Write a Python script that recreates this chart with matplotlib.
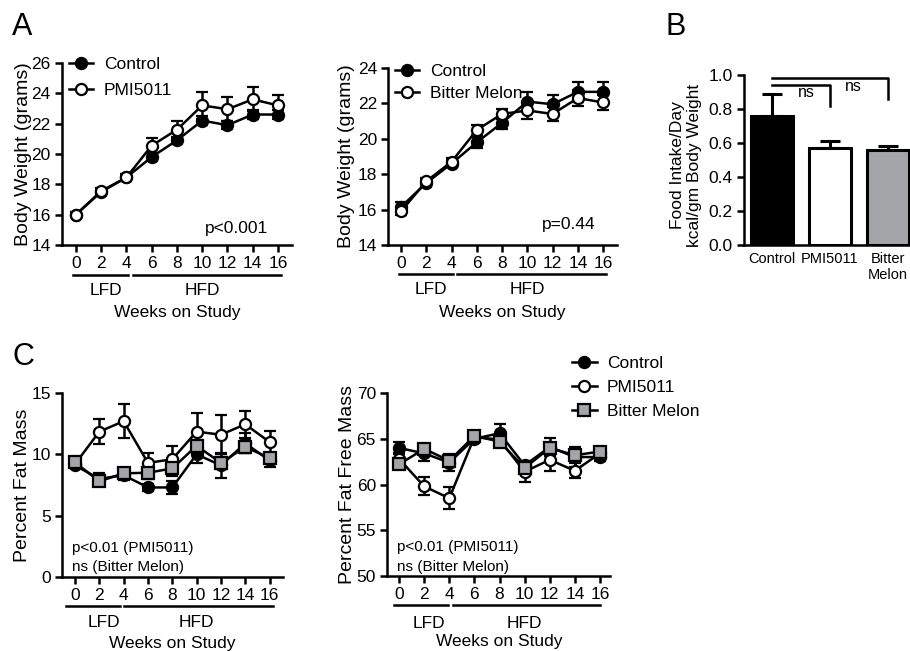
import numpy as np
import matplotlib
matplotlib.use("Agg")
import matplotlib.pyplot as plt

plt.rcParams["font.family"] = ["Liberation Sans", "DejaVu Sans"]

# --- Datos ---
weeks = [0, 2, 4, 6, 8, 10, 12, 14, 16]

bw1_control = [16.0, 17.5, 18.45, 19.8, 20.9, 22.2, 21.9, 22.6, 22.6]
bw1_control_err = [0.15, 0.2, 0.2, 0.25, 0.25, 0.3, 0.25, 0.3, 0.3]
bw1_pmi = [16.0, 17.55, 18.45, 20.55, 21.6, 23.2, 22.95, 23.6, 23.2]
bw1_pmi_err = [0.15, 0.2, 0.25, 0.5, 0.6, 0.9, 0.8, 0.8, 0.7]

bw2_control = [16.15, 17.5, 18.6, 19.8, 20.9, 22.1, 21.95, 22.65, 22.65]
bw2_control_err = [0.3, 0.25, 0.2, 0.3, 0.35, 0.55, 0.55, 0.55, 0.55]
bw2_bm = [15.9, 17.6, 18.7, 20.5, 21.4, 21.6, 21.4, 22.3, 22.05]
bw2_bm_err = [0.2, 0.2, 0.2, 0.3, 0.3, 0.5, 0.4, 0.45, 0.45]

food_groups = ["Control", "PMI5011", "Bitter\nMelon"]
food_intake = [0.76, 0.57, 0.56]
food_err = [0.13, 0.04, 0.02]

fat_control = [9.1, 8.0, 8.3, 7.3, 7.3, 10.0, 9.1, 10.9, 9.5]
fat_control_err = [0.2, 0.5, 0.4, 0.3, 0.5, 0.7, 1.0, 0.8, 0.5]
fat_pmi = [9.2, 11.85, 12.7, 9.3, 9.6, 11.85, 11.6, 12.45, 11.0]
fat_pmi_err = [0.2, 1.0, 1.4, 0.8, 1.1, 1.5, 1.6, 1.1, 0.9]
fat_bm = [9.35, 7.8, 8.45, 8.5, 8.85, 10.7, 9.3, 10.6, 9.7]
fat_bm_err = [0.3, 0.4, 0.4, 0.5, 0.6, 0.5, 0.5, 0.5, 0.4]

ffm_control = [64.0, 63.4, 62.4, 65.0, 65.6, 62.1, 64.1, 63.0, 63.0]
ffm_control_err = [0.6, 0.8, 0.9, 0.5, 1.0, 0.5, 1.0, 1.1, 0.4]
ffm_pmi = [62.8, 59.8, 58.5, 65.2, 64.9, 61.4, 62.7, 61.5, 63.4]
ffm_pmi_err = [0.5, 1.0, 1.2, 0.5, 0.7, 1.1, 1.2, 0.8, 0.5]
ffm_bm = [62.2, 63.9, 62.6, 65.3, 64.7, 61.8, 64.0, 63.2, 63.6]
ffm_bm_err = [0.5, 0.5, 0.6, 0.4, 0.5, 0.5, 0.5, 0.5, 0.4]

GRIS = "#a3a5a8"
LW = 1.8
FS = 12.5

estilos = {
    "Control": dict(marker="o", mfc="black", mec="black", ms=8),
    "PMI5011": dict(marker="o", mfc="white", mec="black", ms=8),
    "Bitter Melon": dict(marker="s", mfc=GRIS, mec="black", ms=8.5),
}


def estilo_ejes(ax):
    for s in ["top", "right"]:
        ax.spines[s].set_visible(False)
    for s in ["left", "bottom"]:
        ax.spines[s].set_linewidth(LW)
    ax.tick_params(width=LW, length=5, labelsize=FS, pad=3)


def serie(ax, y, err, nombre, estilo=None):
    c = ax.errorbar(weeks, y, yerr=err, color="black", lw=LW, capsize=4.5,
                    capthick=LW, elinewidth=LW, mew=1.6, label=nombre,
                    clip_on=False, **(estilo or estilos[nombre]))
    return c[0]


def leyenda(ax, handles, labels, anchor, spacing):
    ax.legend(handles, labels, loc="upper left", bbox_to_anchor=anchor, frameon=False,
              fontsize=FS, handlelength=1.4, handletextpad=0.6, labelspacing=spacing,
              borderaxespad=0)


def dietas(ax, lfd, hfd, y_linea, y_lfd, y_wk):
    tr = ax.get_xaxis_transform()
    ax.plot(lfd, [y_linea, y_linea], color="black", lw=LW, transform=tr, clip_on=False)
    ax.plot(hfd, [y_linea, y_linea], color="black", lw=LW, transform=tr, clip_on=False)
    ax.text(2.4, y_lfd, "LFD", transform=tr, ha="center", va="center", fontsize=FS)
    ax.text(10, y_lfd, "HFD", transform=tr, ha="center", va="center", fontsize=FS)
    ax.text(8, y_wk, "Weeks on Study", transform=tr, ha="center", va="center", fontsize=FS)


fig = plt.figure(figsize=(9.1, 6.51), dpi=100)

# --- A izquierda ---
ax1 = fig.add_axes([0.0681, 0.6237, 0.2527, 0.2796])
h1 = serie(ax1, bw1_control, bw1_control_err, "Control")
h2 = serie(ax1, bw1_pmi, bw1_pmi_err, "PMI5011")
ax1.set_xlim(-1.1, 17.1)
ax1.set_ylim(14, 26)
ax1.set_yticks(range(14, 27, 2))
ax1.set_xticks(weeks)
ax1.set_ylabel("Body Weight (grams)", fontsize=14)
ax1.yaxis.set_label_coords(-0.13, 0.5)
estilo_ejes(ax1)
ax1.text(0.896, 0.093, "p<0.001", transform=ax1.transAxes, ha="right", va="center", fontsize=FS)
leyenda(ax1, [h1, h2], ["Control", "PMI5011"], (0.0, 1.07), 0.6)
dietas(ax1, [-0.2, 4.1], [4.5, 16.25], -0.165, -0.25, -0.37)

# --- A derecha ---
ax2 = fig.add_axes([0.4264, 0.6237, 0.2516, 0.2719])
h1 = serie(ax2, bw2_control, bw2_control_err, "Control")
h2 = serie(ax2, bw2_bm, bw2_bm_err, "Bitter Melon", estilos["PMI5011"])
ax2.set_xlim(-1.03, 17.1)
ax2.set_ylim(14, 24)
ax2.set_yticks(range(14, 25, 2))
ax2.set_xticks(weeks)
ax2.set_ylabel("Body Weight (grams)", fontsize=14)
ax2.yaxis.set_label_coords(-0.144, 0.5)
estilo_ejes(ax2)
ax2.text(0.908, 0.113, "p=0.44", transform=ax2.transAxes, ha="right", va="center", fontsize=FS)
leyenda(ax2, [h1, h2], ["Control", "Bitter Melon"], (0.0, 1.06), 0.35)
dietas(ax2, [-0.16, 4.1], [4.45, 16.2], -0.164, -0.254, -0.379)

# --- B ---
ax3 = fig.add_axes([744 / 910, 0.6237, 166 / 910, 0.2611])
xb = np.arange(len(food_groups))
ax3.bar(xb, food_intake, width=0.72, color=["black", "white", GRIS],
        edgecolor="black", linewidth=2.2, zorder=2)
ax3.errorbar(xb, food_intake, yerr=[[0, 0, 0], food_err], fmt="none", ecolor="black",
             elinewidth=2.2, capsize=7, capthick=2.2, zorder=1)
ax3.set_xlim(-0.48, 2.38)
ax3.set_ylim(0, 1.0)
ax3.set_yticks(np.arange(0, 1.01, 0.2))
ax3.set_yticklabels([f"{v:.1f}" for v in np.arange(0, 1.01, 0.2)])
ax3.set_xticks(xb)
ax3.set_xticklabels(food_groups, fontsize=10.5, linespacing=1.2)
estilo_ejes(ax3)
ax3.tick_params(axis="x", length=0, labelsize=10.5, pad=5)
ax3.set_ylabel("Food Intake/Day\nkcal/gm Body Weight", fontsize=FS, linespacing=1.2)
ax3.yaxis.set_label_coords(-0.25, 0.47)
ax3.plot([0, 2, 2], [0.98, 0.98, 0.86], color="black", lw=LW, clip_on=False)
ax3.plot([0, 1, 1], [0.94, 0.94, 0.82], color="black", lw=LW, clip_on=False)
ax3.text(0.6, 0.895, "ns", ha="center", va="center", fontsize=11.5)
ax3.text(1.4, 0.93, "ns", ha="center", va="center", fontsize=11.5)

# --- C izquierda ---
ax4 = fig.add_axes([0.0681, 0.1137, 221 / 910, 0.2826])
serie(ax4, fat_control, fat_control_err, "Control")
serie(ax4, fat_pmi, fat_pmi_err, "PMI5011")
serie(ax4, fat_bm, fat_bm_err, "Bitter Melon")
ax4.set_xlim(-1.07, 17.1)
ax4.set_ylim(0, 15)
ax4.set_yticks([0, 5, 10, 15])
ax4.set_xticks(weeks)
ax4.set_ylabel("Percent Fat Mass", fontsize=14)
ax4.yaxis.set_label_coords(-0.142, 0.5)
estilo_ejes(ax4)
ax4.text(0.045, 0.158, "p<0.01 (PMI5011)", transform=ax4.transAxes, va="center", fontsize=11)
ax4.text(0.045, 0.054, "ns (Bitter Melon)", transform=ax4.transAxes, va="center", fontsize=11)
dietas(ax4, [-0.74, 3.7], [4.0, 16.25], -0.158, -0.25, -0.36)

# --- C derecha ---
ax5 = fig.add_axes([387 / 910, 0.1152, 223 / 910, 0.2811])
h1 = serie(ax5, ffm_control, ffm_control_err, "Control")
h2 = serie(ax5, ffm_pmi, ffm_pmi_err, "PMI5011")
h3 = serie(ax5, ffm_bm, ffm_bm_err, "Bitter Melon")
ax5.set_xlim(-0.96, 16.8)
ax5.set_ylim(50, 70)
ax5.set_yticks(range(50, 71, 5))
ax5.set_xticks(weeks)
ax5.set_ylabel("Percent Fat Free Mass", fontsize=14)
ax5.yaxis.set_label_coords(-0.14, 0.5)
estilo_ejes(ax5)
ax5.text(0.045, 0.158, "p<0.01 (PMI5011)", transform=ax5.transAxes, va="center", fontsize=11)
ax5.text(0.045, 0.049, "ns (Bitter Melon)", transform=ax5.transAxes, va="center", fontsize=11)
leyenda(ax5, [h1, h2, h3], ["Control", "PMI5011", "Bitter Melon"], (0.80, 1.24), 0.5)
dietas(ax5, [-0.4, 3.9], [4.3, 16.0], -0.158, -0.257, -0.36)

# --- Letras de panel ---
fig.text(12 / 910, 1 - 27 / 651, "A", fontsize=22, va="center")
fig.text(666 / 910, 1 - 27 / 651, "B", fontsize=22, va="center")
fig.text(12 / 910, 1 - 357 / 651, "C", fontsize=22, va="center")

plt.savefig("out.png", dpi=100)
